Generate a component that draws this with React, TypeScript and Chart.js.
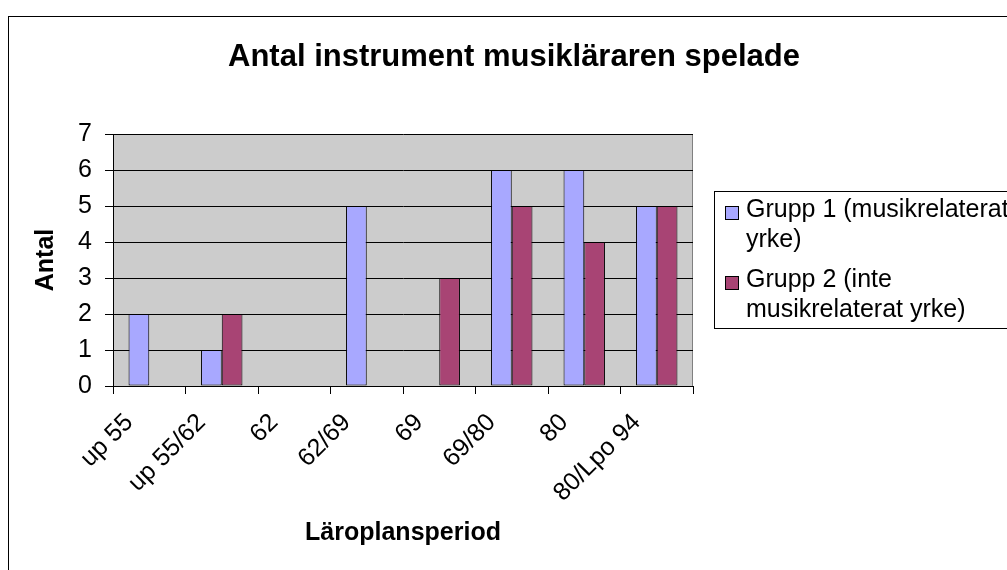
import React, { useEffect, useRef } from "react";
import { Chart, registerables } from "chart.js";

Chart.register(...registerables);

const categories = ["up 55", "up 55/62", "62", "62/69", "69", "69/80", "80", "80/Lpo 94"];
const group1Values = [2, 1, 0, 5, 0, 6, 6, 5];
const group2Values = [0, 2, 0, 0, 3, 5, 4, 5];
const seriesLabels = ["Grupp 1 (musikrelaterat yrke)", "Grupp 2 (inte musikrelaterat yrke)"];
const seriesColors = ["#A8A8FF", "#A84474"];
const chartTitle = "Antal instrument musikläraren spelade";
const xAxisTitle = "Läroplansperiod";
const yAxisTitle = "Antal";
const yMin = 0;
const yMax = 7;
const yStep = 1;

const FONT = "'Liberation Sans', Arial, sans-serif";

function wrapText(ctx: CanvasRenderingContext2D, text: string, maxWidth: number): string[] {
  const words = text.split(" ");
  const lines: string[] = [];
  let cur = "";
  for (const w of words) {
    const test = cur ? cur + " " + w : w;
    if (cur && ctx.measureText(test).width > maxWidth) {
      lines.push(cur);
      cur = w;
    } else {
      cur = test;
    }
  }
  if (cur) lines.push(cur);
  return lines;
}

const decorPlugin = {
  id: "decor",
  beforeDraw(chart: any) {
    const { ctx, chartArea: a } = chart;
    ctx.save();
    ctx.fillStyle = "#FFFFFF";
    ctx.fillRect(0, 0, chart.width, chart.height);
    ctx.fillStyle = "#CCCCCC";
    ctx.fillRect(a.left, a.top, a.right - a.left, a.bottom - a.top);
    ctx.strokeStyle = "#808080";
    ctx.lineWidth = 1;
    ctx.beginPath();
    const rx = Math.round(a.right) - 0.5;
    ctx.moveTo(rx, a.top);
    ctx.lineTo(rx, a.bottom);
    ctx.stroke();
    ctx.restore();
  },
  afterDraw(chart: any) {
    const ctx: CanvasRenderingContext2D = chart.ctx;
    ctx.save();
    // outer chart border
    ctx.strokeStyle = "#000000";
    ctx.lineWidth = 1;
    ctx.strokeRect(8.5, 16.5, 1200, 800);
    // title
    ctx.fillStyle = "#000000";
    ctx.font = `bold 31px ${FONT}`;
    ctx.textAlign = "center";
    ctx.textBaseline = "alphabetic";
    ctx.fillText(chartTitle, 514, 66);
    // legend
    ctx.strokeRect(714.5, 191.5, 500, 137);
    ctx.font = `25px ${FONT}`;
    ctx.textAlign = "left";
    let baseline = 217;
    chart.data.datasets.forEach((ds: any) => {
      const lines = wrapText(ctx, ds.label, 270);
      ctx.fillStyle = ds.backgroundColor;
      ctx.fillRect(725, baseline - 11, 14, 14);
      ctx.strokeStyle = "#000000";
      ctx.strokeRect(725.5, baseline - 10.5, 13, 13);
      ctx.fillStyle = "#000000";
      lines.forEach((ln, i) => {
        ctx.fillText(ln, 746, baseline + i * 30);
      });
      baseline += lines.length * 30 + 10;
    });
    ctx.restore();
  },
};

export default function App() {
  const ref = useRef<HTMLCanvasElement | null>(null);

  useEffect(() => {
    if (!ref.current) return;
    const chart = new Chart(ref.current, {
      type: "bar",
      data: {
        labels: categories,
        datasets: [
          {
            label: seriesLabels[0],
            data: group1Values,
            backgroundColor: seriesColors[0],
            borderColor: "#000000",
            borderWidth: 1,
            borderSkipped: false,
            categoryPercentage: 2 / 3.5,
            barPercentage: 1,
          },
          {
            label: seriesLabels[1],
            data: group2Values,
            backgroundColor: seriesColors[1],
            borderColor: "#000000",
            borderWidth: 1,
            borderSkipped: false,
            categoryPercentage: 2 / 3.5,
            barPercentage: 1,
          },
        ],
      },
      options: {
        responsive: false,
        animation: false,
        devicePixelRatio: 1,
        layout: { padding: { left: 8, right: 314, top: 134, bottom: 0 } },
        plugins: {
          legend: { display: false },
          title: { display: false },
          tooltip: { enabled: false },
        },
        scales: {
          x: {
            afterFit: (s: any) => {
              s.height = 184;
            },
            grid: {
              display: true,
              drawOnChartArea: false,
              drawTicks: true,
              tickLength: 8,
              color: "#000000",
              offset: true,
            },
            border: { display: true, color: "#000000", width: 1 },
            ticks: {
              autoSkip: false,
              minRotation: 45,
              maxRotation: 45,
              padding: 14,
              labelOffset: -20,
              color: "#000000",
              font: { size: 25, family: FONT },
            },
            title: {
              display: true,
              text: xAxisTitle,
              color: "#000000",
              font: { size: 25, weight: "bold", family: FONT },
              padding: { top: 0, bottom: 22 },
            },
          },
          y: {
            min: yMin,
            max: yMax,
            afterFit: (s: any) => {
              s.width = 105;
            },
            grid: { color: "#000000", tickLength: 8, drawTicks: true, lineWidth: 1 },
            border: { display: true, color: "#000000", width: 1 },
            ticks: {
              stepSize: yStep,
              padding: 13,
              color: "#000000",
              font: { size: 25, family: FONT },
            },
            title: {
              display: true,
              text: yAxisTitle,
              color: "#000000",
              font: { size: 25, weight: "bold", family: FONT },
              padding: { top: 23, bottom: 0 },
            },
          },
        },
      } as any,
      plugins: [decorPlugin as any],
    });
    return () => chart.destroy();
  }, []);

  return (
    <canvas
      ref={ref}
      width={1007}
      height={570}
      style={{ position: "absolute", left: 0, top: 0, width: 1007, height: 570 }}
    />
  );
}
